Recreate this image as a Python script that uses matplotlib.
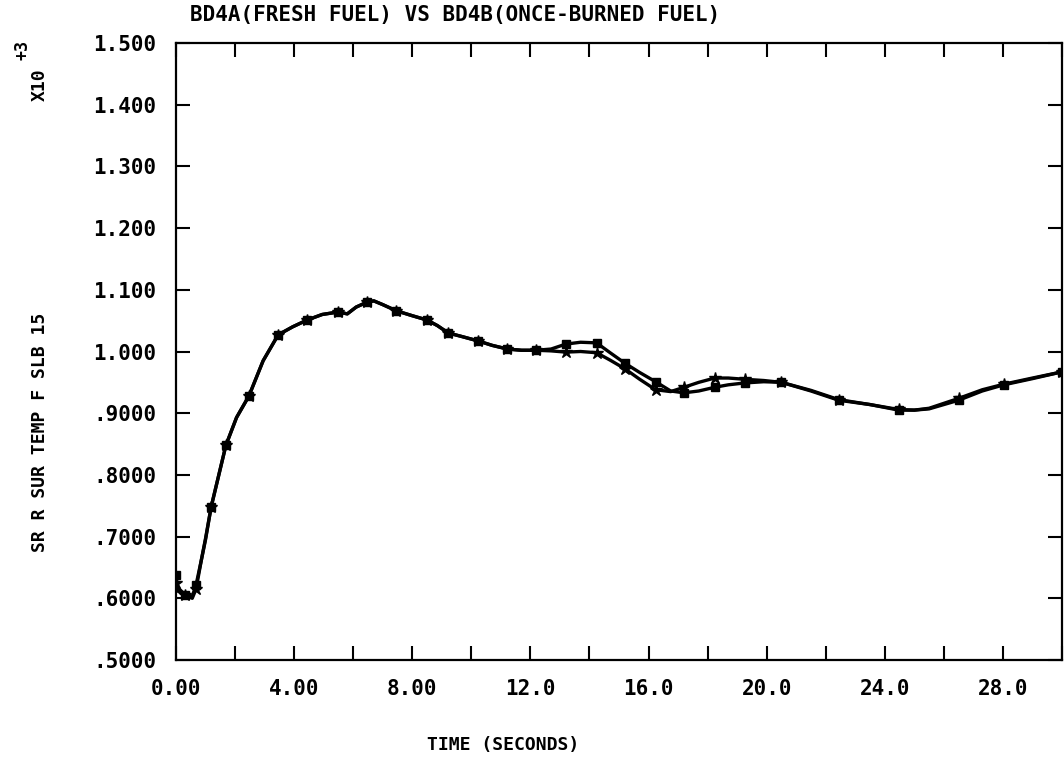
import numpy as np
import matplotlib
matplotlib.use('Agg')
import matplotlib.pyplot as plt

# BD4A (fresh fuel), square markers
time_a = [0.0, 0.05, 0.3, 0.55, 0.68, 0.85, 1.0, 1.19, 1.45, 1.69, 2.05,
          2.47, 2.95, 3.46, 3.95, 4.44, 4.95, 5.49, 5.8, 6.1, 6.47, 6.7,
          7.0, 7.46, 8.0, 8.5, 8.85, 9.22, 9.7, 10.24, 10.7, 11.22, 11.7,
          12.2, 12.7, 13.2, 13.7, 14.24, 14.7, 15.2, 15.7, 16.24, 16.75,
          17.2, 17.7, 18.24, 18.7, 19.25, 19.9, 20.5, 21.5, 22.44, 23.5,
          24.47, 25.0, 25.5, 26.5, 27.3, 28.03, 29.0, 30.0]
temp_a = [0.638, 0.618, 0.606, 0.603, 0.622, 0.660, 0.697, 0.748, 0.800,
          0.848, 0.893, 0.928, 0.985, 1.027, 1.040, 1.051, 1.060, 1.064,
          1.061, 1.072, 1.080, 1.082, 1.076, 1.066, 1.058, 1.051, 1.042,
          1.030, 1.024, 1.017, 1.010, 1.004, 1.002, 1.002, 1.004, 1.012,
          1.015, 1.014, 0.998, 0.981, 0.966, 0.951, 0.936, 0.933, 0.936,
          0.942, 0.946, 0.949, 0.951, 0.950, 0.936, 0.921, 0.914, 0.905,
          0.905, 0.907, 0.921, 0.936, 0.946, 0.956, 0.967]

# BD4B (once-burned fuel), star markers
time_b = [0.0, 0.05, 0.3, 0.55, 0.68, 0.85, 1.0, 1.19, 1.45, 1.69, 2.05,
          2.47, 2.95, 3.46, 3.95, 4.44, 4.95, 5.49, 5.8, 6.1, 6.47, 6.7,
          7.0, 7.46, 8.0, 8.5, 8.85, 9.22, 9.7, 10.24, 10.7, 11.22, 11.7,
          12.2, 12.7, 13.2, 13.7, 14.24, 14.7, 15.2, 15.7, 16.24, 16.75,
          17.2, 17.7, 18.24, 18.7, 19.25, 19.9, 20.5, 21.5, 22.44, 23.5,
          24.47, 25.0, 25.5, 26.5, 27.3, 28.03, 29.0, 30.0]
temp_b = [0.625, 0.612, 0.605, 0.600, 0.615, 0.660, 0.695, 0.748, 0.800,
          0.848, 0.893, 0.928, 0.985, 1.027, 1.040, 1.051, 1.060, 1.064,
          1.061, 1.072, 1.080, 1.082, 1.076, 1.066, 1.058, 1.051, 1.042,
          1.030, 1.024, 1.017, 1.010, 1.004, 1.002, 1.002, 1.001, 0.999,
          1.000, 0.998, 0.986, 0.972, 0.955, 0.938, 0.935, 0.942, 0.950,
          0.957, 0.957, 0.955, 0.953, 0.950, 0.937, 0.922, 0.914, 0.906,
          0.905, 0.908, 0.924, 0.938, 0.947, 0.957, 0.967]

mark_times = [0.0, 0.3, 0.68, 1.19, 1.69, 2.47, 3.46, 4.44, 5.49, 6.47,
              7.46, 8.5, 9.22, 10.24, 11.22, 12.2, 13.2, 14.24, 15.2, 16.24,
              17.2, 18.24, 19.25, 20.5, 22.44, 24.47, 26.5, 28.03, 30.0]

x_ticks = np.arange(0, 30.1, 2.0)
x_labels = {0: '0.00', 4: '4.00', 8: '8.00', 12: '12.0', 16: '16.0',
            20: '20.0', 24: '24.0', 28: '28.0'}
y_ticks = np.arange(0.5, 1.501, 0.1)
y_labels = ['.5000', '.6000', '.7000', '.8000', '.9000', '1.000',
            '1.100', '1.200', '1.300', '1.400', '1.500']

font = {'family': 'DejaVu Sans Mono', 'weight': 'bold'}

fig = plt.figure(figsize=(10.64, 7.59), dpi=100)
ax = fig.add_axes([176 / 1064, 1 - 660 / 759, (1062 - 176) / 1064,
                   (660 - 43) / 759])

for t, v, mk, ms in [(time_a, temp_a, 's', 6), (time_b, temp_b, '*', 9)]:
    idx = [i for i, tt in enumerate(t) if tt in mark_times]
    ax.plot(t, v, color='black', lw=2.4, marker=mk, ms=ms,
            markevery=idx, mfc='black', mec='black')

ax.set_xlim(0, 30)
ax.set_ylim(0.5, 1.5)
ax.set_xticks(x_ticks)
ax.set_xticklabels([x_labels.get(int(round(t)), '') for t in x_ticks],
                   fontdict=font, fontsize=15)
ax.set_yticks(y_ticks)
ax.set_yticklabels(y_labels, fontdict=font, fontsize=15)
ax.tick_params(direction='in', length=10, width=1.5, top=True, right=True,
               pad=14, colors='black')
for s in ax.spines.values():
    s.set_linewidth(1.6)

fig.text(190 / 1064, 1 - 15 / 759, 'BD4A(FRESH FUEL) VS BD4B(ONCE-BURNED FUEL)',
         fontsize=15, family='DejaVu Sans Mono', weight='bold',
         va='center', ha='left')
fig.text(503 / 1064, 1 - 745 / 759, 'TIME (SECONDS)', fontsize=13,
         family='DejaVu Sans Mono', weight='bold', ha='center', va='center')
fig.text(40 / 1064, 1 - 432 / 759, 'SR R SUR TEMP F SLB 15', fontsize=13,
         family='DejaVu Sans Mono', weight='bold', rotation=90,
         ha='center', va='center')
fig.text(40 / 1064, 1 - 85 / 759, 'X10', fontsize=13,
         family='DejaVu Sans Mono', weight='bold', rotation=90,
         ha='center', va='center')
fig.text(22 / 1064, 1 - 50 / 759, '+3', fontsize=12,
         family='DejaVu Sans Mono', weight='bold', rotation=90,
         ha='center', va='center')

fig.savefig('out.png', dpi=100)
